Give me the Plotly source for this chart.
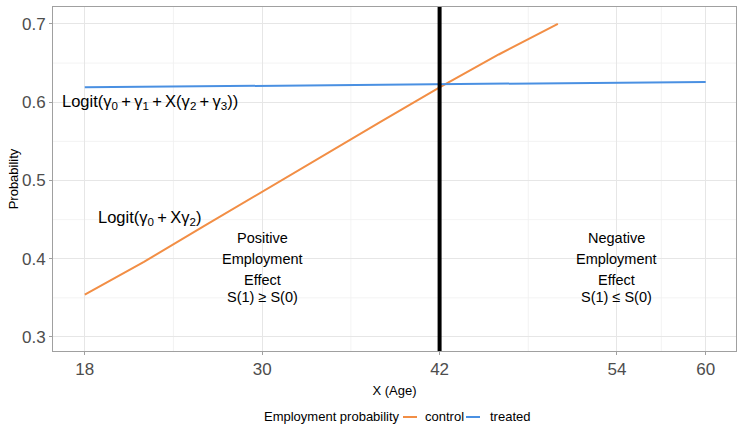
import plotly.graph_objects as go

# Data
age_control = [18, 22, 26, 30, 34, 38, 42, 46, 50]
prob_control = [0.354, 0.396, 0.441, 0.486, 0.531, 0.575, 0.619, 0.661, 0.700]
age_treated = [18, 30, 42, 54, 60]
prob_treated = [0.619, 0.621, 0.623, 0.625, 0.626]
x_ticks = [18, 30, 42, 54, 60]
y_ticks = [0.3, 0.4, 0.5, 0.6, 0.7]
cutoff_age = 42

ORANGE = "#F28E45"
BLUE = "#4A90E2"
FONT = "Liberation Sans, Arial, sans-serif"
TS = "\u2009"

fig = go.Figure()
fig.add_trace(go.Scatter(x=age_control, y=prob_control, mode="lines", name="control",
                         line=dict(color=ORANGE, width=2), showlegend=False))
fig.add_trace(go.Scatter(x=age_treated, y=prob_treated, mode="lines", name="treated",
                         line=dict(color=BLUE, width=2), showlegend=False))

fig.add_vline(x=cutoff_age, line=dict(color="black", width=4))

# minor grid lines
for xm in [24, 36, 48, 57]:
    fig.add_vline(x=xm, line=dict(color="#F0F0F0", width=0.8), layer="below")
for ym in [0.35, 0.45, 0.55, 0.65]:
    fig.add_hline(y=ym, line=dict(color="#F0F0F0", width=0.8), layer="below")

def txt(x, y, s, size):
    fig.add_annotation(x=x, y=y, text=s, showarrow=False,
                       font=dict(family=FONT, size=size, color="black"))

txt(22.4, 0.6, f"Logit(γ<sub>0</sub>{TS}+{TS}γ<sub>1</sub>{TS}+{TS}X(γ<sub>2</sub>{TS}+{TS}γ<sub>3</sub>))", 16.5)
txt(22.4, 0.452, f"Logit(γ<sub>0</sub>{TS}+{TS}Xγ<sub>2</sub>)", 16.5)

lines_y = [0.4265, 0.3997, 0.3728]
for xc, words, rel in [(30, ["Positive", "Employment", "Effect"], "S(1) ≥ S(0)"),
                       (54, ["Negative", "Employment", "Effect"], "S(1) ≤ S(0)")]:
    for w, yy in zip(words, lines_y):
        txt(xc, yy, w, 14.5)
    txt(xc, 0.3511, rel, 14.5)

# custom legend (paper coordinates; plot domain spans px 53..736 x 7..351)
def px2x(px):
    return (px - 53) / 683.0

def py2y(py):
    return (351 - py) / 344.0

LEG_Y = py2y(417)
fig.add_annotation(xref="paper", yref="paper", x=px2x(262), y=LEG_Y, xanchor="left",
                   yanchor="middle", text="Employment probability", showarrow=False,
                   font=dict(family=FONT, size=13, color="black"))
for x0, x1, col, lx, name in [(403, 417, ORANGE, 423, "control"),
                              (466, 480, BLUE, 488, "treated")]:
    fig.add_shape(type="line", xref="paper", yref="paper", x0=px2x(x0), x1=px2x(x1),
                  y0=LEG_Y, y1=LEG_Y, line=dict(color=col, width=2))
    fig.add_annotation(xref="paper", yref="paper", x=px2x(lx), y=LEG_Y, xanchor="left",
                       yanchor="middle", text=name, showarrow=False,
                       font=dict(family=FONT, size=13, color="black"))

fig.update_layout(
    width=737, height=425,
    margin=dict(l=53, r=1, t=7, b=74),
    paper_bgcolor="white", plot_bgcolor="white",
    font=dict(family=FONT, color="#4D4D4D"),
    showlegend=False,
    xaxis=dict(range=[15.85, 62.05], tickvals=x_ticks, ticktext=[str(v) for v in x_ticks],
               tickfont=dict(size=17, color="#4D4D4D"), showgrid=True, gridcolor="#E6E6E6",
               gridwidth=1, zeroline=False, showline=True, linecolor="#A0A0A0", linewidth=1,
               mirror=True, ticks="outside", ticklen=3, tickcolor="#A0A0A0",
               automargin=False,
               title=dict(text="X (Age)", font=dict(size=13, color="black"), standoff=7)),
    yaxis=dict(range=[0.2821, 0.7217], tickvals=y_ticks, ticktext=[f"{v:.1f}" for v in y_ticks],
               tickfont=dict(size=17, color="#4D4D4D"), showgrid=True, gridcolor="#E6E6E6",
               gridwidth=1, zeroline=False, showline=True, linecolor="#A0A0A0", linewidth=1,
               mirror=True, ticks="outside", ticklen=3, tickcolor="#A0A0A0",
               automargin=False,
               title=dict(text="Probability", font=dict(size=13, color="black"), standoff=0)),
)

fig.write_html("out.html")
